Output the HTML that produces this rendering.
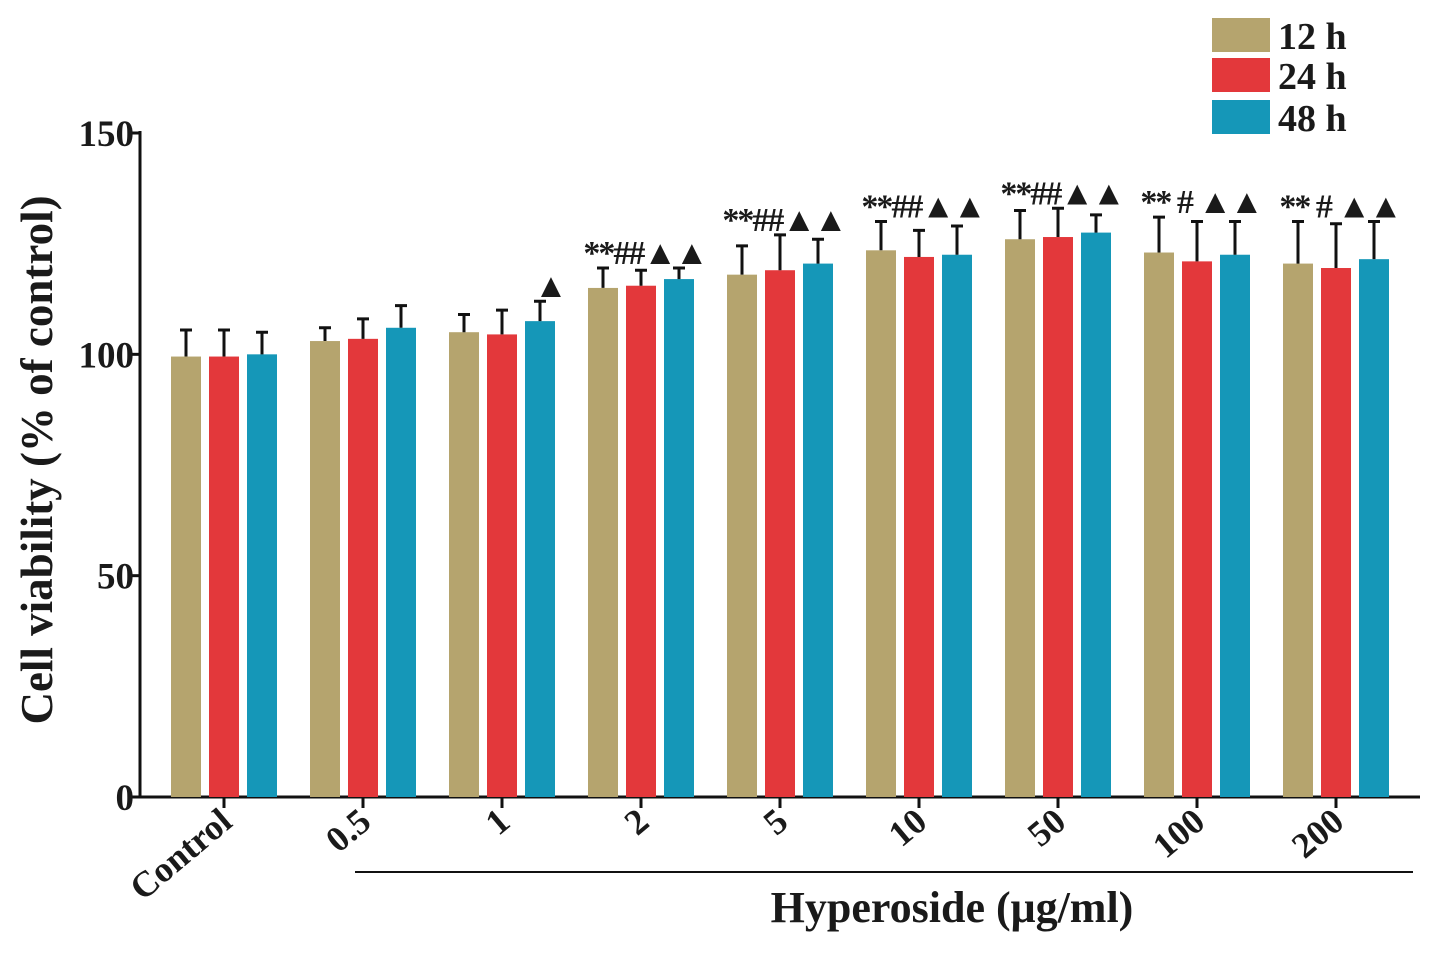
<!DOCTYPE html>
<html><head><meta charset="utf-8"><style>
body{margin:0;background:#fff;}
svg text{font-family:"Liberation Serif",serif;font-weight:bold;fill:#1a1a1a;}
</style></head><body>
<svg id="chart" width="1441" height="953" xmlns="http://www.w3.org/2000/svg">
<g id="plot"></g>
</svg>
<script>
const categories=["Control","0.5","1","2","5","10","50","100","200"];
const series=["12 h","24 h","48 h"];
const colors=["#b5a46e","#e3383b","#1597b8"];
const v12=[99.5,103,105,115,118,123.5,126,123,120.5];
const v24=[99.5,103.5,104.5,115.5,119,122,126.5,121,119.5];
const v48=[100,106,107.5,117,120.5,122.5,127.5,122.5,121.5];
const e12=[6,3,4,4.5,6.5,6.5,6.5,8,9.5];
const e24=[6,4.5,5.5,3.5,8,6,6.5,9,10];
const e48=[5,5,4.5,2.5,5.5,6.5,4,7.5,8.5];
const marks=["","","▲","**##▲▲","**##▲▲","**##▲▲","**##▲▲","** #  ▲▲","** #  ▲▲"];
const yTicks=[0,50,100,150];
const vals=[v12,v24,v48], errs=[e12,e24,e48];
const NS="http://www.w3.org/2000/svg";
const g=document.getElementById('plot');
const y=v=>797-v*664/150;
const gx=i=>224+i*139;
function el(t,a,txt){const e=document.createElementNS(NS,t);for(const k in a)e.setAttribute(k,a[k]);if(txt!=null)e.textContent=txt;g.appendChild(e);return e;}
let ax=el('line',{x1:140,y1:797,x2:1420,y2:797,stroke:'#111','stroke-width':3});

ax=el('line',{x1:140,y1:131,x2:140,y2:798,stroke:'#111','stroke-width':3});

yTicks.forEach(t=>{
 const l=el('line',{x1:130,y1:y(t),x2:140,y2:y(t),stroke:'#111','stroke-width':3});
 
 const tx=el('text',{x:134,y:y(t)+13,'text-anchor':'end','font-size':37},t);
 
});
categories.forEach((c,i)=>{
 const cx=gx(i);
 const tk=el('line',{x1:cx,y1:797,x2:cx,y2:808,stroke:'#111','stroke-width':3});
 
 const lb=el('text',{x:cx+10,y:825,'text-anchor':'end','font-size':36,transform:`rotate(-40 ${cx+10} 825)`},c);
 
 let top=797;
 for(let s=0;s<3;s++){
  const bx=cx-38+s*38, v=vals[s][i], e=errs[s][i];
  const r=el('rect',{x:bx-15,y:y(v),width:30,height:797-y(v),fill:colors[s]});
  
  const eb=el('path',{d:`M${bx} ${y(v)}V${y(v+e)}M${bx-6} ${y(v+e)}H${bx+6}`,stroke:'#111','stroke-width':3,fill:'none'});
  
  top=Math.min(top,y(v+e));
 }
 if(marks[i]){
  const m=el('text',{x:i==2?cx+48:cx+4,y:top-4,'text-anchor':'middle','font-size':34,'letter-spacing':'-2','xml:space':'preserve'},marks[i]);
  
 }
});
const ul=el('line',{x1:355,y1:872,x2:1413,y2:872,stroke:'#111','stroke-width':2});

const xt=el('text',{x:952,y:922,'text-anchor':'middle','font-size':44},'Hyperoside (μg/ml)');

const yt=el('text',{x:52,y:460,'text-anchor':'middle','font-size':45,transform:'rotate(-90 52 460)'},'Cell viability (% of control)');

series.forEach((s,k)=>{
 const ry=[18,58,100][k];
 const r=el('rect',{x:1212,y:ry,width:58,height:34,fill:colors[k]});
 
 const t=el('text',{x:1278,y:ry+31,'font-size':38},s);
 
});
</script>
</body></html>
